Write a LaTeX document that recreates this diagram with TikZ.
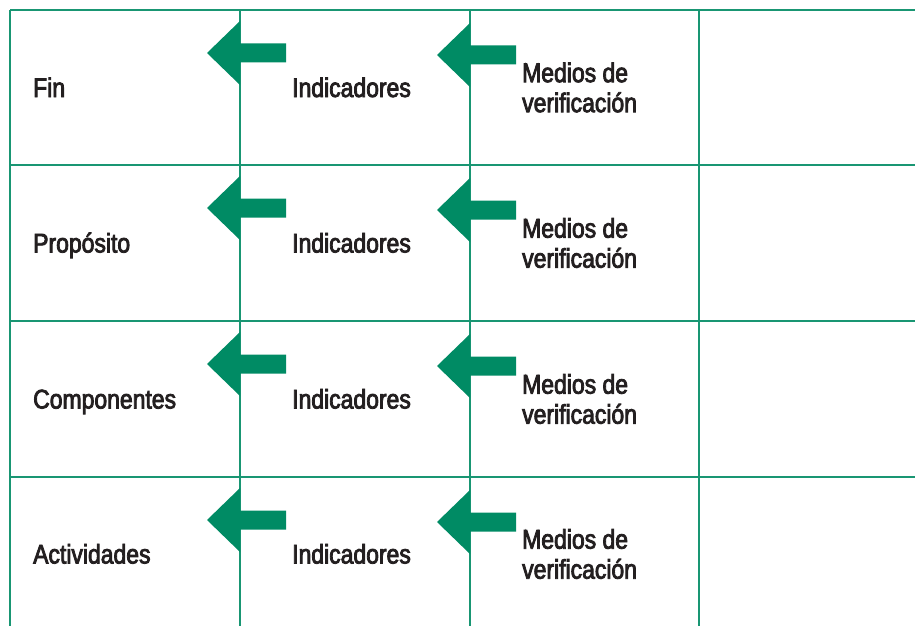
\documentclass[tikz,border=0pt]{standalone}
\usepackage{fontspec}
\setmainfont{Liberation Sans}[FakeStretch=0.85, UprightFeatures={FakeBold=3}]
\definecolor{gridgreen}{RGB}{25,150,115}
\definecolor{arrowgreen}{RGB}{0,139,100}
\definecolor{textgray}{RGB}{35,31,32}
% arrow pointing left, its head resting on a column line
\newcommand{\greenarrow}[2]{%
\fill[arrowgreen] (#1-33,#2) -- (#1,#2-32) -- (#1,#2-9.5) -- (#1+46,#2-9.5)
  -- (#1+46,#2+9.5) -- (#1,#2+9.5) -- (#1,#2+32) -- cycle;}
\begin{document}
\begin{tikzpicture}[x=1pt, y=-1pt,
  gridline/.style={draw=gridgreen, line width=1.3pt},
  celltext/.style={inner sep=0pt, text=textgray, font=\fontsize{27}{30}\selectfont},
  twoline/.style={celltext, align=left}]
\useasboundingbox (0,0) rectangle (915,626);
% grid
\draw[gridline] (10,10) -- (915,10);
\draw[gridline] (10,165) -- (915,165);
\draw[gridline] (10,321) -- (915,321);
\draw[gridline] (10,477) -- (915,477);
\draw[gridline] (10,10) -- (10,626);
\draw[gridline] (240,10) -- (240,626);
\draw[gridline] (470,10) -- (470,626);
\draw[gridline] (699,10) -- (699,626);
% arrows
\greenarrow{240}{53}
\greenarrow{470}{55}
\greenarrow{240}{208}
\greenarrow{470}{210}
\greenarrow{240}{364}
\greenarrow{470}{366}
\greenarrow{240}{520}
\greenarrow{470}{522}
% row 1
\node[celltext, anchor=base west] (fin) at (33,97){Fin};
\node[celltext, anchor=base west] (ind1) at (292,97){Indicadores};
\node[twoline, anchor=west] (med1) at (522,87.5){Medios de\\verificación};
% row 2
\node[celltext, anchor=base west] (proposito) at (33,252.5){Propósito};
\node[celltext, anchor=base west] (ind2) at (292,252.5){Indicadores};
\node[twoline, anchor=west] (med2) at (522,243){Medios de\\verificación};
% row 3
\node[celltext, anchor=base west] (componentes) at (33,408.5){Componentes};
\node[celltext, anchor=base west] (ind3) at (292,408.5){Indicadores};
\node[twoline, anchor=west] (med3) at (522,399){Medios de\\verificación};
% row 4
\node[celltext, anchor=base west] (actividades) at (33,563.5){Actividades};
\node[celltext, anchor=base west] (ind4) at (292,563.5){Indicadores};
\node[twoline, anchor=west] (med4) at (522,554){Medios de\\verificación};
\end{tikzpicture}
\end{document}
